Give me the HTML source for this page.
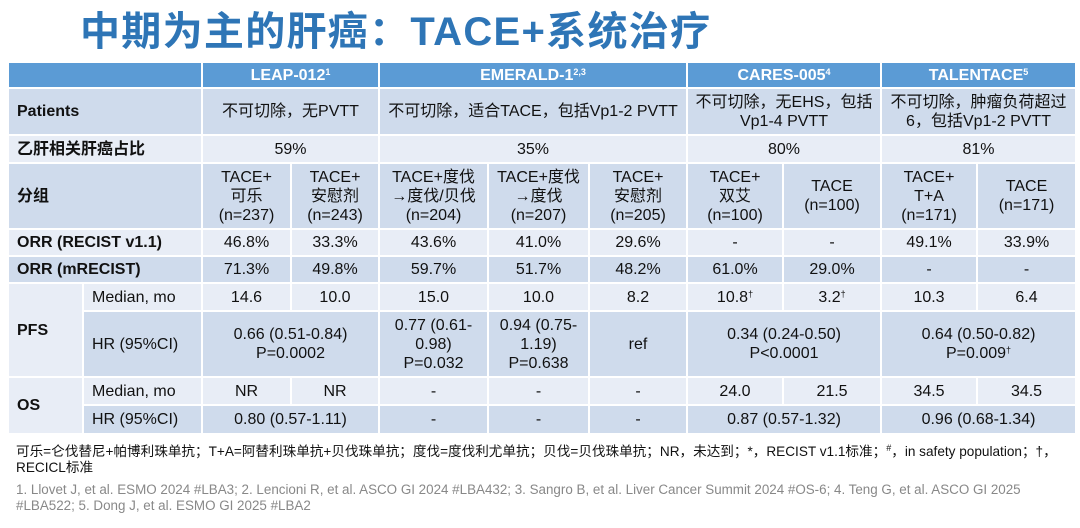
<!DOCTYPE html>
<html><head><meta charset="utf-8"><style>
body{margin:0;width:1080px;height:528px;background:#fff;position:relative;overflow:hidden;font-family:"Liberation Sans","Noto Sans CJK SC",sans-serif;}
.title{position:absolute;left:80px;top:4px;font-size:40px;font-weight:bold;color:#2e75b6;white-space:nowrap;line-height:56px;letter-spacing:1.3px}
table{position:absolute;left:7px;top:61px;border-collapse:collapse;table-layout:fixed;width:1068px;font-size:16px;color:#111}
td{border:2px solid #fff;text-align:center;vertical-align:middle;padding:0;line-height:19px;overflow:hidden}
.h td{background:#5b9bd5;color:#fff;font-weight:bold;font-size:16px}
.d td{background:#cfdbec}
.l td{background:#e8edf6}
td.lb{text-align:left;padding-left:8px;font-weight:bold}
td.sl{text-align:left;padding-left:8px}
sup{font-size:9px;vertical-align:5px;line-height:0}
.fn{position:absolute;left:16px;top:444px;font-size:13.6px;color:#111;line-height:16px;white-space:nowrap}
.rf{position:absolute;left:16px;top:482px;font-size:13.4px;color:#888;line-height:16px;white-space:nowrap}
</style></head><body>
<div class="title">中期为主的肝癌：TACE+系统治疗</div>
<table>
<colgroup><col style="width:75px"><col style="width:119px"><col style="width:89px"><col style="width:88px"><col style="width:109px"><col style="width:101px"><col style="width:98px"><col style="width:96px"><col style="width:98px"><col style="width:96px"><col style="width:99px"></colgroup>
<tr class="h" style="height:26px"><td colspan="2"></td><td colspan="2">LEAP-012<sup>1</sup></td><td colspan="3">EMERALD-1<sup>2,3</sup></td><td colspan="2">CARES-005<sup>4</sup></td><td colspan="2">TALENTACE<sup>5</sup></td></tr>
<tr class="d" style="height:47px"><td colspan="2" class="lb">Patients</td><td colspan="2">不可切除，无PVTT</td><td colspan="3">不可切除，适合TACE，包括Vp1-2 PVTT</td><td colspan="2">不可切除，无EHS，包括<br>Vp1-4 PVTT</td><td colspan="2">不可切除，肿瘤负荷超过<br>6，包括Vp1-2 PVTT</td></tr>
<tr class="l" style="height:28px"><td colspan="2" class="lb">乙肝相关肝癌占比</td><td colspan="2">59%</td><td colspan="3">35%</td><td colspan="2">80%</td><td colspan="2">81%</td></tr>
<tr class="d" style="height:66px"><td colspan="2" class="lb">分组</td><td>TACE+<br>可乐<br>(n=237)</td><td>TACE+<br>安慰剂<br>(n=243)</td><td>TACE+度伐<br>→度伐/贝伐<br>(n=204)</td><td>TACE+度伐<br>→度伐<br>(n=207)</td><td>TACE+<br>安慰剂<br>(n=205)</td><td>TACE+<br>双艾<br>(n=100)</td><td>TACE<br>(n=100)</td><td>TACE+<br>T+A<br>(n=171)</td><td>TACE<br>(n=171)</td></tr>
<tr class="l" style="height:27px"><td colspan="2" class="lb">ORR (RECIST v1.1)</td><td>46.8%</td><td>33.3%</td><td>43.6%</td><td>41.0%</td><td>29.6%</td><td>-</td><td>-</td><td>49.1%</td><td>33.9%</td></tr>
<tr class="d" style="height:27px"><td colspan="2" class="lb">ORR (mRECIST)</td><td>71.3%</td><td>49.8%</td><td>59.7%</td><td>51.7%</td><td>48.2%</td><td>61.0%</td><td>29.0%</td><td>-</td><td>-</td></tr>
<tr class="l" style="height:28px"><td rowspan="2" class="lb" style="background:#e8edf6">PFS</td><td class="sl">Median, mo</td><td>14.6</td><td>10.0</td><td>15.0</td><td>10.0</td><td>8.2</td><td>10.8<sup>†</sup></td><td>3.2<sup>†</sup></td><td>10.3</td><td>6.4</td></tr>
<tr class="d" style="height:66px"><td class="sl">HR (95%CI)</td><td colspan="2">0.66 (0.51-0.84)<br>P=0.0002</td><td>0.77 (0.61-<br>0.98)<br>P=0.032</td><td>0.94 (0.75-<br>1.19)<br>P=0.638</td><td>ref</td><td colspan="2">0.34 (0.24-0.50)<br>P&lt;0.0001</td><td colspan="2">0.64 (0.50-0.82)<br>P=0.009<sup>†</sup></td></tr>
<tr class="l" style="height:28px"><td rowspan="2" class="lb" style="background:#e8edf6">OS</td><td class="sl">Median, mo</td><td>NR</td><td>NR</td><td>-</td><td>-</td><td>-</td><td>24.0</td><td>21.5</td><td>34.5</td><td>34.5</td></tr>
<tr class="d" style="height:29px"><td class="sl">HR (95%CI)</td><td colspan="2">0.80 (0.57-1.11)</td><td>-</td><td>-</td><td>-</td><td colspan="2">0.87 (0.57-1.32)</td><td colspan="2">0.96 (0.68-1.34)</td></tr>
</table>
<div class="fn">可乐=仑伐替尼+帕博利珠单抗；T+A=阿替利珠单抗+贝伐珠单抗；度伐=度伐利尤单抗；贝伐=贝伐珠单抗；NR，未达到；*，RECIST v1.1标准；<sup>#</sup>，in safety population；†，<br>RECICL标准</div>
<div class="rf">1. Llovet J, et al. ESMO 2024 #LBA3; 2. Lencioni R, et al. ASCO GI 2024 #LBA432; 3. Sangro B, et al. Liver Cancer Summit 2024 #OS-6; 4. Teng G, et al. ASCO GI 2025<br>#LBA522; 5. Dong J, et al. ESMO GI 2025 #LBA2</div>
</body></html>
